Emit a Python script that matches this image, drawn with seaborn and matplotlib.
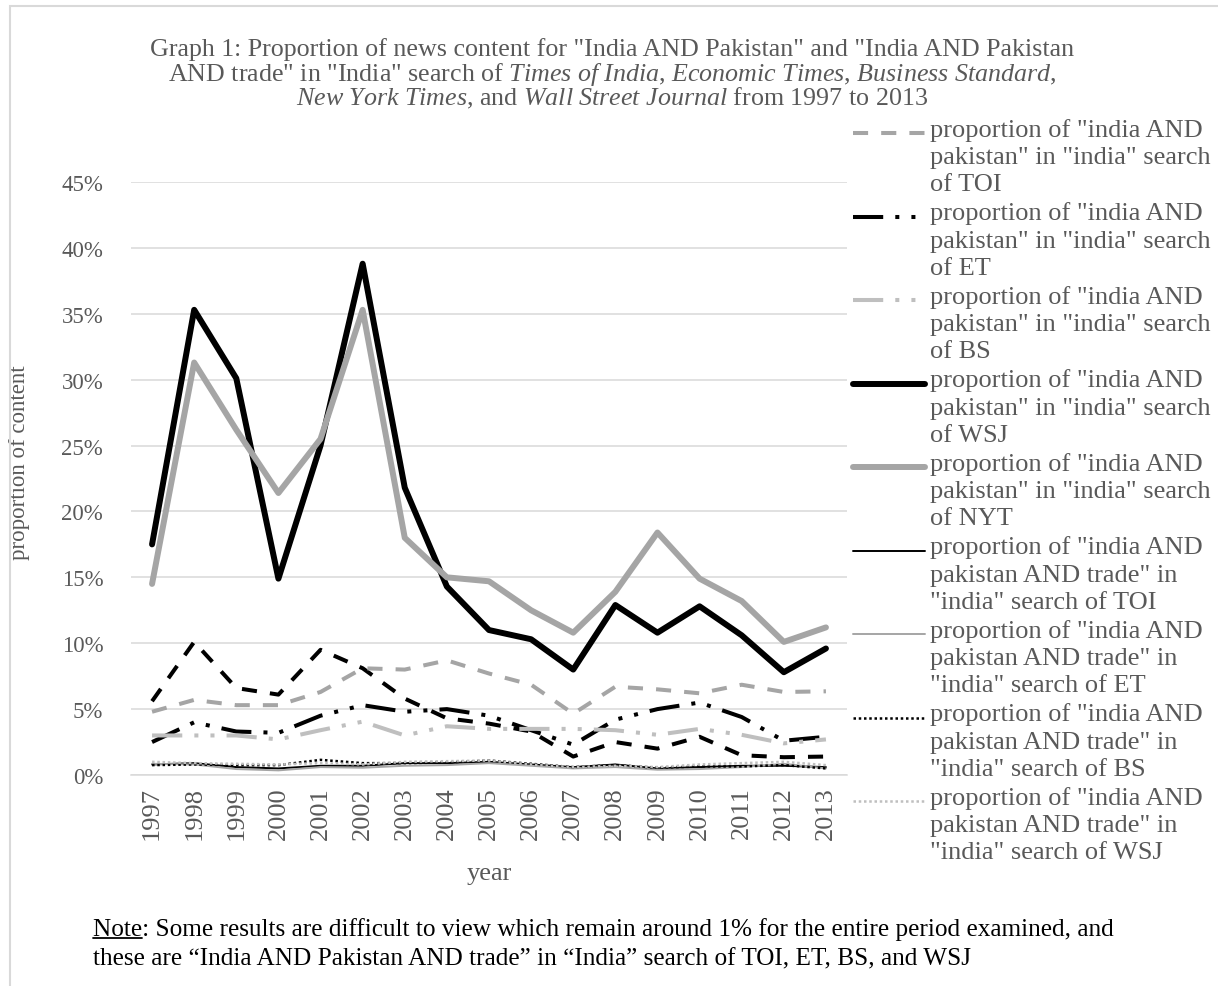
import matplotlib
matplotlib.use("Agg")
import matplotlib.pyplot as plt
from matplotlib.lines import Line2D
from matplotlib.patches import Rectangle
from matplotlib.ticker import FuncFormatter
import seaborn as sns

# data (percent of "india" search results)
years = list(range(1997, 2014))

unlisted = [5.6, 10.1, 6.6, 6.1, 9.5, 8.1, 5.8, 4.3, 3.9, 3.3, 1.4, 2.5, 2.0, 2.9, 1.5, 1.35, 1.4]
toi = [4.8, 5.7, 5.3, 5.3, 6.3, 8.1, 8.0, 8.7, 7.7, 6.85, 4.65, 6.7, 6.5, 6.2, 6.85, 6.3, 6.35]
et = [2.5, 4.0, 3.3, 3.2, 4.5, 5.3, 4.8, 5.0, 4.5, 3.4, 2.3, 4.2, 5.0, 5.5, 4.4, 2.6, 2.9]
bs = [3.0, 3.0, 3.0, 2.7, 3.4, 4.05, 3.0, 3.7, 3.5, 3.5, 3.5, 3.4, 3.05, 3.5, 3.05, 2.4, 2.7]
wsj = [17.5, 35.3, 30.1, 14.9, 25.0, 38.8, 21.8, 14.3, 11.0, 10.3, 8.0, 12.9, 10.8, 12.8, 10.6, 7.8, 9.6]
nyt = [14.5, 31.3, 26.2, 21.4, 25.5, 35.3, 18.0, 15.0, 14.7, 12.5, 10.8, 13.9, 18.4, 14.9, 13.2, 10.1, 11.2]
toi_trade = [0.8, 0.9, 0.6, 0.5, 0.7, 0.7, 0.9, 0.9, 1.0, 0.8, 0.6, 0.8, 0.5, 0.6, 0.7, 0.7, 0.6]
et_trade = [0.85, 0.8, 0.45, 0.35, 0.6, 0.55, 0.7, 0.75, 0.9, 0.7, 0.5, 0.6, 0.4, 0.45, 0.6, 0.85, 0.5]
bs_trade = [0.75, 0.8, 0.75, 0.75, 1.15, 0.9, 0.9, 0.95, 1.1, 0.85, 0.6, 0.75, 0.55, 0.65, 0.65, 0.75, 0.5]
wsj_trade = [1.0, 0.9, 0.85, 0.8, 0.9, 0.8, 1.0, 1.05, 1.1, 0.8, 0.6, 0.7, 0.6, 0.8, 0.9, 1.0, 0.75]

labels = [
    'proportion of "india AND\npakistan" in "india" search\nof TOI',
    'proportion of "india AND\npakistan" in "india" search\nof ET',
    'proportion of "india AND\npakistan" in "india" search\nof BS',
    'proportion of "india AND\npakistan" in "india" search\nof WSJ',
    'proportion of "india AND\npakistan" in "india" search\nof NYT',
    'proportion of "india AND\npakistan AND trade" in\n"india" search of TOI',
    'proportion of "india AND\npakistan AND trade" in\n"india" search of ET',
    'proportion of "india AND\npakistan AND trade" in\n"india" search of BS',
    'proportion of "india AND\npakistan AND trade" in\n"india" search of WSJ',
]

GREY = "#A5A5A5"
LIGHT = "#BFBFBF"
TXT = "#595959"
long_dash = (0, (3.75, 3.25))
dash_dot_dot = (0, (7.5, 3, 1, 3, 1, 3))

# (values, colour, linewidth, linestyle)
styles = [
    (toi, GREY, 2.9, long_dash),
    (et, "black", 2.9, dash_dot_dot),
    (bs, LIGHT, 2.9, dash_dot_dot),
    (wsj, "black", 4.3, "-"),
    (nyt, GREY, 4.3, "-"),
    (toi_trade, "black", 1.4, "-"),
    (et_trade, GREY, 1.4, "-"),
    (bs_trade, "black", 1.8, (0, (1, 1.1))),
    (wsj_trade, LIGHT, 1.8, (0, (1, 1.1))),
]

sns.set_theme(style="white")
plt.rcParams["font.family"] = ["Liberation Serif", "DejaVu Serif"]
plt.rcParams["mathtext.fontset"] = "custom"
plt.rcParams["mathtext.rm"] = "Liberation Serif"
plt.rcParams["mathtext.it"] = "Liberation Serif:italic"

W, H = 1218, 987
fx = lambda px: px / W
fy = lambda py: 1 - py / H

fig = plt.figure(figsize=(12.18, 9.87), dpi=100)
fig.patch.set_facecolor("white")
ax = fig.add_axes([fx(131), fy(776), fx(847) - fx(131), fy(183) - fy(776)])

# series without a visible legend entry is drawn first
sns.lineplot(x=years, y=unlisted, ax=ax, color="black", linewidth=2.9, linestyle=long_dash)
for vals, col, lw, ls in styles:
    sns.lineplot(x=years, y=vals, ax=ax, color=col, linewidth=lw, linestyle=ls)

ax.set_xlim(1996.5, 2013.5)
ax.set_ylim(0, 45)
ax.set_yticks(range(0, 46, 5))
ax.yaxis.set_major_formatter(FuncFormatter(lambda v, p: f"{v:.0f}%"))
ax.set_xticks(years)
ax.set_xticklabels([str(y) for y in years], rotation=90)
ax.tick_params(axis="both", labelcolor=TXT, length=0)
ax.tick_params(axis="x", labelsize=19, pad=8)
ax.tick_params(axis="y", labelsize=16.5, pad=20)
ax.grid(axis="y", color="#D9D9D9", linewidth=1.1)
ax.set_axisbelow(True)
for s in ["top", "right", "left"]:
    ax.spines[s].set_visible(False)
ax.spines["bottom"].set_color("#D9D9D9")
ax.spines["bottom"].set_linewidth(1.1)

ax.set_ylabel("proportion of content", fontsize=16.5, color=TXT)
ax.yaxis.set_label_coords((30 - 131) / (847 - 131), (776 - 463) / (776 - 183))
ax.set_xlabel("")
fig.text(fx(489), fy(874), "year", fontsize=19, color=TXT, ha="center", va="center")

# title
t1 = 'Graph 1: Proportion of news content for "India AND Pakistan" and "India AND Pakistan'
t2 = (r'AND trade" in "India" search of $\mathit{Times\ of\ India}$, '
      r'$\mathit{Economic\ Times}$, $\mathit{Business\ Standard}$,')
t3 = r'$\mathit{New\ York\ Times}$, and $\mathit{Wall\ Street\ Journal}$ from 1997 to 2013'
for i, t in enumerate([t1, t2, t3]):
    fig.text(fx(612), fy(50 + 24 * i), t, fontsize=18.7, color=TXT, ha="center", va="center")

# legend, drawn Excel-style with the key on the first text line
for k, ((vals, col, lw, ls), lab) in enumerate(zip(styles, labels)):
    yc = 134 + 83.5 * k
    fig.add_artist(Line2D([fx(853), fx(925)], [fy(yc), fy(yc)], color=col,
                          linewidth=lw, linestyle=ls, transform=fig.transFigure))
    fig.text(fx(930), fy(yc - 15), lab, fontsize=19, color=TXT, ha="left", va="top",
             linespacing=1.3)

# chart border (cut at right and bottom edges)
fig.add_artist(Rectangle((fx(9.5), -0.1), 2, fy(7) + 0.1, transform=fig.transFigure,
                         fill=False, edgecolor="#D9D9D9", linewidth=1.5))

# note below the chart
note1 = "Note: Some results are difficult to view which remain around 1% for the entire period examined, and"
note2 = "these are \u201cIndia AND Pakistan AND trade\u201d in \u201cIndia\u201d search of TOI, ET, BS, and WSJ"
fig.text(fx(93), fy(930), note1, fontsize=18.2, color="black", ha="left", va="center")
fig.text(fx(93), fy(959), note2, fontsize=18.2, color="black", ha="left", va="center")

# underline under "Note": measure the word, then drop the helper text
word = fig.text(fx(93), fy(930), "Note", fontsize=18.2, ha="left", va="center")
fig.canvas.draw()
bb = word.get_window_extent()
word.remove()
fig.add_artist(Line2D([bb.x0 / W, bb.x1 / W], [(bb.y0 + 2) / H, (bb.y0 + 2) / H],
                      color="black", linewidth=1.3, transform=fig.transFigure))

fig.savefig("out.png", dpi=100)
